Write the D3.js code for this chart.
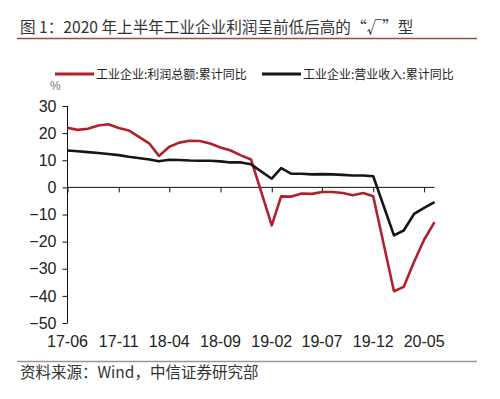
<!DOCTYPE html>
<html>
<head>
<meta charset="utf-8">
<script src="https://cdn.jsdelivr.net/npm/d3@7"></script>
<style>
  body { margin: 0; background: #fff; }
  svg { display: block; }
  .axis text { font-family: "Liberation Sans", Arial, sans-serif; font-size: 16px; fill: #222; }
  .axis path, .axis line { stroke: #111; }
  .cjk { font-family: "Noto Sans CJK SC", sans-serif; }
</style>
</head>
<body>
<div id="chart"></div>
<script>
// months with data (no January release, Jan-Feb are combined)
var months = ["2017-06","2017-07","2017-08","2017-09","2017-10","2017-11","2017-12",
              "2018-02","2018-03","2018-04","2018-05","2018-06","2018-07","2018-08","2018-09","2018-10","2018-11","2018-12",
              "2019-02","2019-03","2019-04","2019-05","2019-06","2019-07","2019-08","2019-09","2019-10","2019-11","2019-12",
              "2020-02","2020-03","2020-04","2020-05","2020-06"];

// 工业企业:利润总额:累计同比 (%)
var profit = [22.0,21.2,21.6,22.8,23.3,21.9,21.0,
              16.1,11.6,15.0,16.5,17.2,17.1,16.2,14.7,13.6,11.8,10.3,
              -14.0,-3.3,-3.4,-2.3,-2.4,-1.7,-1.7,-2.1,-2.9,-2.1,-3.3,
              -38.3,-36.7,-27.4,-19.3,-12.8];

// 工业企业:营业收入:累计同比 (%)
var revenue = [13.6,13.3,13.0,12.7,12.3,11.9,11.3,
               10.3,9.6,10.2,10.1,9.9,9.8,9.8,9.6,9.2,9.2,8.5,
               3.2,7.1,5.0,5.0,4.8,4.9,4.8,4.6,4.4,4.4,4.1,
               -17.7,-15.9,-9.8,-7.6,-5.4];

var yTicks = [30,20,10,0,-10,-20,-30,-40,-50];
var xTickLabels = ["17-06","17-11","18-04","18-09","19-02","19-07","19-12","20-05"];

var seriesNames = ["工业企业:利润总额:累计同比", "工业企业:营业收入:累计同比"];
var colours = ["#b3202d", "#151515"];

var W = 500, H = 399;
var parse = d3.timeParse("%Y-%m");
var parseShort = d3.timeParse("%y-%m");
var fmt = d3.timeFormat("%y-%m");

var svg = d3.select("#chart").append("svg")
    .attr("width", W)
    .attr("height", H);

// title + rule
svg.append("text")
    .attr("class", "cjk")
    .attr("x", 20).attr("y", 33)
    .attr("font-size", 15.6)
    .attr("fill", "#333")
    .text("图 1：2020 年上半年工业企业利润呈前低后高的“√”型");

svg.append("line")
    .attr("x1", 17).attr("x2", 477)
    .attr("y1", 38.5).attr("y2", 38.5)
    .attr("stroke", "#9b4a4a").attr("stroke-width", 1.5);

// scales
var x = d3.scaleTime()
    .domain([parse("2017-06"), parse("2020-06")])
    .range([67.5, 434.5]);

var y = d3.scaleLinear()
    .domain([-50, 30])
    .range([323, 106]);

// y axis
svg.append("g")
    .attr("class", "axis")
    .attr("transform", "translate(67.5,0)")
    .call(d3.axisLeft(y).tickValues(yTicks).tickSize(5).tickSizeOuter(0).tickPadding(6))
    .call(function(g) { g.select(".domain").attr("d", "M0," + y(30) + "V" + y(-50)); });

// x axis on the zero line
var xAxis = svg.append("g")
    .attr("class", "axis")
    .attr("transform", "translate(0," + y(0) + ")")
    .call(d3.axisBottom(x)
        .tickValues(xTickLabels.map(parseShort))
        .tickFormat(fmt)
        .tickSize(5)
        .tickSizeOuter(0));
xAxis.select(".domain").attr("d", "M67.5,0H434.5");
xAxis.selectAll("text").remove();

// x tick labels below the plot
svg.append("g")
    .attr("class", "axis")
    .selectAll("text")
    .data(xTickLabels)
    .enter().append("text")
    .attr("x", function(d) { return x(parseShort(d)); })
    .attr("y", 346.5)
    .attr("text-anchor", "middle")
    .text(function(d) { return d; });

// lines
var line = d3.line()
    .x(function(d) { return x(d.date); })
    .y(function(d) { return y(d.value); });

[profit, revenue].forEach(function(vals, i) {
    var pts = months.map(function(m, j) { return { date: parse(m), value: vals[j] }; });
    svg.append("path")
        .datum(pts)
        .attr("fill", "none")
        .attr("stroke", colours[i])
        .attr("stroke-width", 2.6)
        .attr("stroke-linejoin", "round")
        .attr("d", line);
});

// legend
var legendX = [55, 262];
seriesNames.forEach(function(name, i) {
    svg.append("line")
        .attr("x1", legendX[i]).attr("x2", legendX[i] + 39)
        .attr("y1", 74).attr("y2", 74)
        .attr("stroke", colours[i]).attr("stroke-width", 3);
    svg.append("text")
        .attr("class", "cjk")
        .attr("x", legendX[i] + 41).attr("y", 78.5)
        .attr("font-size", 12)
        .attr("fill", "#222")
        .text(name);
});

// unit
svg.append("text")
    .attr("x", 50).attr("y", 90)
    .attr("font-family", "Liberation Sans, Arial, sans-serif")
    .attr("font-size", 12)
    .attr("fill", "#777")
    .text("%");

// footer
svg.append("line")
    .attr("x1", 17).attr("x2", 477)
    .attr("y1", 361.5).attr("y2", 361.5)
    .attr("stroke", "#a39393").attr("stroke-width", 1.5);

svg.append("text")
    .attr("class", "cjk")
    .attr("x", 20).attr("y", 378)
    .attr("font-size", 15.5)
    .attr("fill", "#333")
    .text("资料来源：Wind，中信证券研究部");
</script>
</body>
</html>
